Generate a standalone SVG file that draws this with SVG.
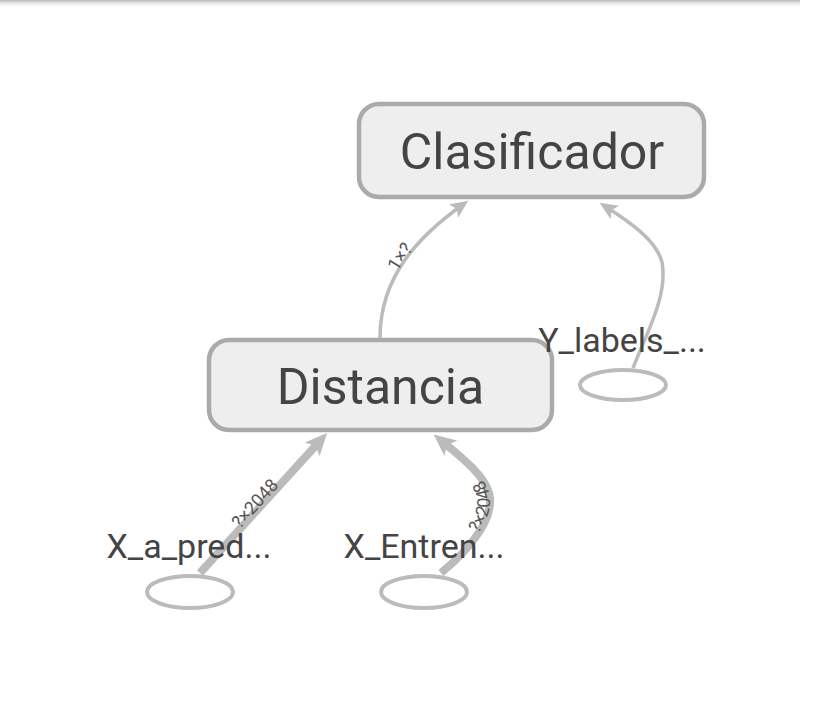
<svg xmlns="http://www.w3.org/2000/svg" width="815" height="725" viewBox="0 0 815 725">
<style>
.node rect{fill:#eeeeee;stroke:#aaaaaa;stroke-width:4.5}
.node ellipse{fill:none;stroke:#bbbbbb;stroke-width:4}
.nlabel{font-family:Roboto,"Liberation Sans",sans-serif;fill:#444444;text-anchor:middle}
.big{font-size:50px}
.small{font-size:34px}
.edge{fill:none;stroke:#bbbbbb}
.thin{stroke-width:3.5}
.thick{stroke-width:8}
.elabel{font-family:Roboto,"Liberation Sans",sans-serif;font-size:18px;fill:#555555;text-anchor:middle}
</style>
<defs>
<linearGradient id="shadow" x1="0" y1="0" x2="0" y2="1">
<stop offset="0" stop-color="#b8b8b8"/>
<stop offset="1" stop-color="#ffffff" stop-opacity="0"/>
</linearGradient>
<marker id="arrowThin" markerUnits="userSpaceOnUse" markerWidth="18" markerHeight="16" refX="14" refY="8" orient="auto" viewBox="0 0 18 16">
<path d="M0,0 L18,8 L0,16 L4,8 z" fill="#bbbbbb"/>
</marker>
<marker id="arrowThick" markerUnits="userSpaceOnUse" markerWidth="22" markerHeight="20" refX="10" refY="10" orient="auto" viewBox="0 0 22 20">
<path d="M0,0 L22,10 L0,20 L5,10 z" fill="#bbbbbb"/>
</marker>
</defs>
<rect x="0" y="0" width="815" height="725" fill="#ffffff"/>
<rect x="0" y="0" width="800" height="8" fill="url(#shadow)"/>

<g id="connectors">
<path id="e1" class="edge thin" d="M380,338 C380,275 420,235 465,203" marker-end="url(#arrowThin)"/>
<path id="e2" class="edge thin" d="M633,368 C648,330 668,295 662,262 C656,240 630,222 603,205" marker-end="url(#arrowThin)"/>
<path id="e3" class="edge thick" d="M200,573 L319,442" marker-end="url(#arrowThick)"/>
<path id="e4" class="edge thick" d="M441,573 C475,545 495,515 489,493 C485,477 465,460 443,442" marker-end="url(#arrowThick)"/>
<text class="elabel"><textPath href="#e1" startOffset="50%">1×?</textPath></text>
<text class="elabel"><textPath href="#e3" startOffset="50%">?×2048</textPath></text>
<text class="elabel"><textPath href="#e4" startOffset="50%">?×2048</textPath></text>
</g>

<g id="Clasificador" class="node">
<rect x="359" y="104" width="345" height="93" rx="20" ry="20"/>
<text class="nlabel big" x="532" y="169">Clasificador</text>
</g>

<g id="Distancia" class="node">
<rect x="209" y="340" width="343" height="90" rx="20" ry="20"/>
<text class="nlabel big" x="380.5" y="404">Distancia</text>
</g>

<g id="Y_labels" class="node">
<ellipse cx="623" cy="385" rx="43" ry="15"/>
<text class="nlabel small" x="622" y="352">Y_labels_...</text>
</g>

<g id="X_a_pred" class="node">
<ellipse cx="190" cy="592" rx="43" ry="16"/>
<text class="nlabel small" x="189" y="558">X_a_pred...</text>
</g>

<g id="X_Entren" class="node">
<ellipse cx="424" cy="592" rx="43" ry="16"/>
<text class="nlabel small" x="424" y="558">X_Entren...</text>
</g>
</svg>
